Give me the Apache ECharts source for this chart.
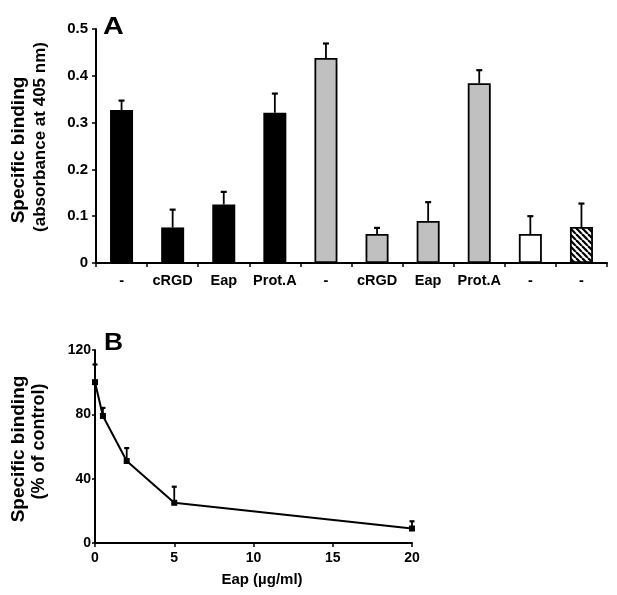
<!DOCTYPE html>
<html>
<head>
<meta charset="utf-8">
<script src="https://cdn.jsdelivr.net/npm/echarts@6/dist/echarts.min.js"></script>
<style>
html,body{margin:0;padding:0;background:#fff;}
#c{width:617px;height:595px;}
</style>
</head>
<body>
<div id="c"></div>
<script>
// ---- Panel A data ----
var categoriesA = ['-', 'cRGD', 'Eap', 'Prot.A', '-', 'cRGD', 'Eap', 'Prot.A', '-', '-'];
var bindingA = [0.327, 0.076, 0.125, 0.321, 0.438, 0.062, 0.090, 0.384, 0.062, 0.077];
var errorA = [0.020, 0.038, 0.027, 0.041, 0.031, 0.013, 0.040, 0.028, 0.038, 0.050];
var yTicksA = [0, 0.1, 0.2, 0.3, 0.4, 0.5];

// ---- Panel B data ----
var eapConc = [0, 0.5, 2, 5, 20];
var bindingPct = [100, 79, 51, 25, 9];
var errorPct = [11, 5, 8, 10, 4.5];
var xTicksB = [0, 5, 10, 15, 20];
var yTicksB = [0, 40, 80, 120];

// ---- styles (kept separate from data) ----
var FONT = 'Liberation Sans, Arial, sans-serif';
function hatch() {
  var c = document.createElement('canvas');
  var s = 6;
  c.width = s; c.height = s;
  var g = c.getContext('2d');
  g.fillStyle = '#fff'; g.fillRect(0, 0, s, s);
  g.strokeStyle = '#000'; g.lineWidth = 2.2;
  [-s, 0, s].forEach(function (k) {
    g.beginPath(); g.moveTo(k, 0); g.lineTo(k + s, s); g.stroke();
  });
  return c;
}
var fillsA = ['#000', '#000', '#000', '#000', '#c0c0c0', '#c0c0c0', '#c0c0c0', '#c0c0c0', '#fff',
  { image: hatch(), repeat: 'repeat' }];

var chart = echarts.init(document.getElementById('c'), null, { renderer: 'canvas' });

function errRender(capHalf) {
  return function (params, api) {
    var x = api.value(0), v = api.value(1), e = api.value(2);
    var p0 = api.coord([x, v]);
    var p1 = api.coord([x, v + e]);
    return {
      type: 'group',
      children: [
        { type: 'line', shape: { x1: p0[0], y1: p0[1], x2: p1[0], y2: p1[1] }, style: { stroke: '#000', lineWidth: 1.8 } },
        { type: 'line', shape: { x1: p1[0] - capHalf, y1: p1[1], x2: p1[0] + capHalf, y2: p1[1] }, style: { stroke: '#000', lineWidth: 2.2 } }
      ]
    };
  };
}

var axisLineStyle = { color: '#000', width: 2 };
var labelStyle = { color: '#000', fontWeight: 'bold', fontFamily: FONT };

chart.setOption({
  animation: false,
  grid: [
    { left: 96, top: 29, width: 511, height: 234 },
    { left: 95, top: 350, width: 317, height: 193 }
  ],
  xAxis: [
    {
      type: 'category', gridIndex: 0, data: categoriesA, boundaryGap: true,
      axisLine: { lineStyle: axisLineStyle },
      axisTick: { show: true, length: 4, lineStyle: { color: '#000', width: 1.5 } },
      axisLabel: Object.assign({ fontSize: 14.5, margin: 10, interval: 0 }, labelStyle),
      splitLine: { show: false }
    },
    {
      type: 'value', gridIndex: 1, min: xTicksB[0], max: xTicksB[xTicksB.length - 1], interval: 5,
      axisLine: { onZero: false, lineStyle: axisLineStyle },
      axisTick: { show: true, length: 4, lineStyle: { color: '#000', width: 1.5 } },
      axisLabel: Object.assign({ fontSize: 14, margin: 8 }, labelStyle),
      splitLine: { show: false }
    }
  ],
  yAxis: [
    {
      type: 'value', gridIndex: 0, min: yTicksA[0], max: yTicksA[yTicksA.length - 1], interval: 0.1,
      axisLine: { show: true, lineStyle: axisLineStyle },
      axisTick: { show: true, length: 4, lineStyle: { color: '#000', width: 1.5 } },
      axisLabel: Object.assign({ fontSize: 15, margin: 8, formatter: function (v) { return v === 0 ? '0' : v.toFixed(1); } }, labelStyle),
      splitLine: { show: false }
    },
    {
      type: 'value', gridIndex: 1, min: yTicksB[0], max: yTicksB[yTicksB.length - 1], interval: 40,
      axisLine: { show: true, onZero: false, lineStyle: axisLineStyle },
      axisTick: { show: true, length: 3, lineStyle: { color: '#000', width: 1.5 } },
      axisLabel: Object.assign({ fontSize: 14, margin: 4 }, labelStyle),
      splitLine: { show: false }
    }
  ],
  series: [
    {
      type: 'bar', xAxisIndex: 0, yAxisIndex: 0, barWidth: 23,
      data: bindingA.map(function (v, i) {
        return { value: v, itemStyle: { color: fillsA[i], borderColor: '#000', borderWidth: i < 4 ? 0 : 1.8 } };
      }),
      z: 2
    },
    {
      type: 'custom', xAxisIndex: 0, yAxisIndex: 0,
      renderItem: errRender(3),
      encode: { x: 0, y: 1 },
      data: bindingA.map(function (v, i) { return [i, v, errorA[i]]; }),
      z: 3
    },
    {
      type: 'line', xAxisIndex: 1, yAxisIndex: 1,
      data: eapConc.map(function (x, i) { return [x, bindingPct[i]]; }),
      symbol: 'rect', symbolSize: 6,
      itemStyle: { color: '#000' },
      lineStyle: { color: '#000', width: 2 },
      z: 3
    },
    {
      type: 'custom', xAxisIndex: 1, yAxisIndex: 1,
      renderItem: errRender(2.5),
      encode: { x: 0, y: 1 },
      data: eapConc.map(function (x, i) { return [x, bindingPct[i], errorPct[i]]; }),
      z: 4
    }
  ],
  graphic: [
    { type: 'text', x: 103, y: 27.5, scaleX: 1.2, style: { text: 'A', font: 'bold 24px ' + FONT, fill: '#000', align: 'left', verticalAlign: 'middle' } },
    { type: 'text', x: 104, y: 343, scaleX: 1.1, style: { text: 'B', font: 'bold 24px ' + FONT, fill: '#000', align: 'left', verticalAlign: 'middle' } },
    { type: 'text', x: 19, y: 150, rotation: Math.PI / 2, style: { text: 'Specific binding', font: 'bold 19px ' + FONT, fill: '#000', align: 'center', verticalAlign: 'middle' } },
    { type: 'text', x: 40, y: 137, rotation: Math.PI / 2, style: { text: '(absorbance at 405 nm)', font: 'bold 17px ' + FONT, fill: '#000', align: 'center', verticalAlign: 'middle' } },
    { type: 'text', x: 19, y: 449, rotation: Math.PI / 2, style: { text: 'Specific binding', font: 'bold 19px ' + FONT, fill: '#000', align: 'center', verticalAlign: 'middle' } },
    { type: 'text', x: 39.5, y: 441.5, rotation: Math.PI / 2, style: { text: '(% of control)', font: 'bold 18px ' + FONT, fill: '#000', align: 'center', verticalAlign: 'middle' } },
    { type: 'text', x: 262, y: 580, style: { text: 'Eap (\u00b5g/ml)', font: 'bold 15px ' + FONT, fill: '#000', align: 'center', verticalAlign: 'middle' } }
  ]
});
</script>
</body>
</html>
